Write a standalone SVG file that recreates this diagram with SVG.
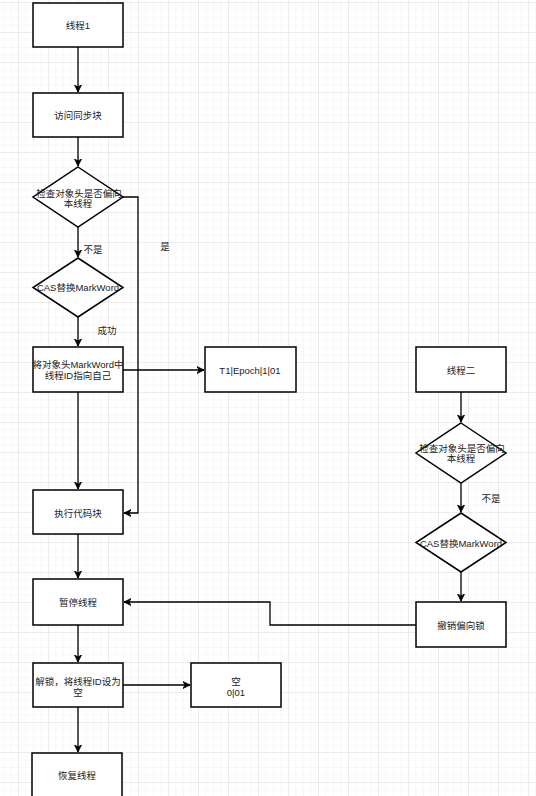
<svg xmlns="http://www.w3.org/2000/svg" width="536" height="796" viewBox="0 0 536 796">
<defs>
<pattern id="minor" x="18" y="2" width="7.5" height="7.5" patternUnits="userSpaceOnUse">
<path d="M0,0 V7.5 M0,0 H7.5" fill="none" stroke="#f1f1f1" stroke-width="1"/>
</pattern>
<pattern id="major" x="18" y="2" width="30" height="30" patternUnits="userSpaceOnUse">
<path d="M0,0 V30 M0,0 H30" fill="none" stroke="#e0e0e0" stroke-width="1"/>
</pattern>
<marker id="arr" markerUnits="userSpaceOnUse" markerWidth="10" markerHeight="10" refX="7" refY="4" orient="auto">
<path d="M0,0.5 L7,4 L0,7.5 L2,4 Z" fill="#000" stroke="#000" stroke-width="0.8"/>
</marker>
<style>
.n{fill:#fff;stroke:#000;stroke-width:1.5}
.t{font-family:"Liberation Sans","Noto Sans CJK SC",sans-serif;font-size:9.5px;fill:#222;text-anchor:middle;dominant-baseline:central}
.c{fill:none;stroke:#000;stroke-width:1.3;marker-end:url(#arr)}
.cl{fill:none;stroke:#000;stroke-width:1.3}
</style>
</defs>
<rect width="536" height="796" fill="#fff"/>
<rect width="536" height="796" fill="url(#minor)"/>
<rect width="536" height="796" fill="url(#major)"/>

<g id="connectors">
<path class="c" d="M78,47 V92"/>
<path class="c" d="M78,137 V166"/>
<path class="c" d="M78,227 V257"/>
<path class="c" d="M78,317 V346"/>
<path class="c" d="M123,197 H138 V513 H124"/>
<path class="c" d="M123,370 H204"/>
<path class="c" d="M78,392 V489"/>
<path class="c" d="M78,534 V578"/>
<path class="c" d="M78,625 V662"/>
<path class="c" d="M123,685 H190"/>
<path class="c" d="M78,707 V752"/>
<path class="c" d="M461,392 V422"/>
<path class="c" d="M461,483 V512"/>
<path class="c" d="M461,572 V601"/>
<path class="c" d="M416,625 H270 V602 H124"/>
</g>

<g id="edge-labels">
<text class="t" x="93" y="249">不是</text>
<text class="t" x="165" y="246">是</text>
<text class="t" x="107" y="330">成功</text>
<text class="t" x="491" y="498">不是</text>
</g>

<g id="thread1"><rect class="n" x="33" y="3" width="90" height="44"/><text class="t" x="78" y="25">线程1</text></g>
<g id="access"><rect class="n" x="33" y="93" width="90" height="44"/><text class="t" x="78" y="115">访问同步块</text></g>
<g id="check1"><path class="n" d="M78,167 L123,197 L78,227 L33,197 Z"/><text class="t" x="79" y="193">检查对象头是否偏向</text><text class="t" x="78" y="203">本线程</text></g>
<g id="cas1"><path class="n" d="M78,258 L123,287.5 L78,317 L33,287.5 Z"/><text class="t" x="78" y="287">CAS替换MarkWord</text></g>
<g id="setid"><rect class="n" x="33" y="347" width="90" height="45"/><text class="t" x="78" y="364">将对象头MarkWord中</text><text class="t" x="78" y="375">线程ID指向自己</text></g>
<g id="t1epoch"><rect class="n" x="205" y="347" width="91" height="45"/><text class="t" x="250" y="370">T1|Epoch|1|01</text></g>
<g id="exec"><rect class="n" x="33" y="490" width="90" height="44"/><text class="t" x="78" y="513">执行代码块</text></g>
<g id="pause"><rect class="n" x="33" y="579" width="90" height="46"/><text class="t" x="78" y="602">暂停线程</text></g>
<g id="unlock"><rect class="n" x="33" y="663" width="90" height="44"/><text class="t" x="78" y="681">解锁，将线程ID设为</text><text class="t" x="78" y="692">空</text></g>
<g id="empty"><rect class="n" x="191" y="663" width="90" height="44"/><text class="t" x="236" y="681">空</text><text class="t" x="236" y="692">0|01</text></g>
<g id="resume"><rect class="n" x="32" y="753" width="90" height="46"/><text class="t" x="77" y="775">恢复线程</text></g>
<g id="thread2"><rect class="n" x="416" y="347" width="90" height="45"/><text class="t" x="461" y="370">线程二</text></g>
<g id="check2"><path class="n" d="M461,423 L506,453 L461,483 L416,453 Z"/><text class="t" x="462" y="448">检查对象头是否偏向</text><text class="t" x="461" y="458">本线程</text></g>
<g id="cas2"><path class="n" d="M461,513 L506,542.5 L461,572 L416,542.5 Z"/><text class="t" x="461" y="543">CAS替换MarkWord</text></g>
<g id="revoke"><rect class="n" x="416" y="602" width="90" height="45"/><text class="t" x="461" y="625">撤销偏向锁</text></g>
</svg>
